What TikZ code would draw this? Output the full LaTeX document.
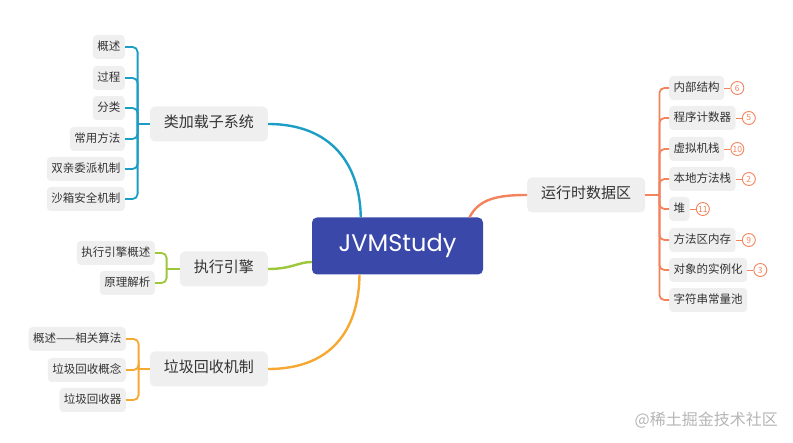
\documentclass[tikz,border=0pt]{standalone}
\usepackage{fontspec}
\setmainfont{Noto Sans CJK SC}
\newfontfamily\latinfont{Poppins}
\usetikzlibrary{calc}
\definecolor{centc}{HTML}{3A49A9}
\definecolor{tealc}{HTML}{1B9DC6}
\definecolor{greenc}{HTML}{9DC73B}
\definecolor{orangec}{HTML}{F7A833}
\definecolor{coralc}{HTML}{F2835C}
\definecolor{boxc}{HTML}{EFEFEF}
\definecolor{txtc}{HTML}{333333}
\definecolor{wmc}{HTML}{B5B5B5}
\begin{document}
\begin{tikzpicture}[x=1pt,y=-1pt,
  centre/.style={fill=centc, rounded corners=5pt, minimum width=171pt, minimum height=57pt, text=white, font=\latinfont\fontsize{24}{28}\selectfont},
  topic/.style={fill=boxc, rounded corners=5pt, minimum height=35pt, inner xsep=14pt, text=txtc, font=\fontsize{15}{18}\selectfont, text height=0.82em, text depth=0.18em},
  leaf/.style={fill=boxc, rounded corners=4pt, minimum height=24pt, inner xsep=4.5pt, text=txtc, font=\fontsize{11.5}{14}\selectfont, text height=0.82em, text depth=0.18em},
  badge/.style={circle, draw=coralc, line width=0.9pt, inner sep=0pt, minimum size=13pt, text=coralc, font=\fontsize{8.5}{9}\selectfont},
  branch/.style={line width=2.4pt},
  twig/.style={line width=1.8pt, rounded corners=5pt},
  ]
\useasboundingbox (0,0) rectangle (793,443);

% centre
\node[centre] (c) at (397.5,246) {JVMStudy};

% main topics
\node[topic, anchor=east] (lei) at (268,124) {类加载子系统};
\node[topic, anchor=east] (zx) at (268,269) {执行引擎};
\node[topic, anchor=east] (lj) at (268,369) {垃圾回收机制};
\node[topic, anchor=west] (yx) at (527,195) {运行时数据区};

% leaves of 类加载子系统
\node[leaf, anchor=east] (a1) at (125,47) {概述};
\node[leaf, anchor=east] (a2) at (125,78) {过程};
\node[leaf, anchor=east] (a3) at (125,108) {分类};
\node[leaf, anchor=east] (a4) at (125,139) {常用方法};
\node[leaf, anchor=east] (a5) at (125,169) {双亲委派机制};
\node[leaf, anchor=east] (a6) at (125,199) {沙箱安全机制};

% leaves of 执行引擎
\node[leaf, anchor=east] (b1) at (155,253) {执行引擎概述};
\node[leaf, anchor=east] (b2) at (155,283) {原理解析};

% leaves of 垃圾回收机制
\node[leaf, anchor=east] (d1) at (126,339) {概述——相关算法};
\node[leaf, anchor=east] (d2) at (126,370) {垃圾回收概念};
\node[leaf, anchor=east] (d3) at (126,400) {垃圾回收器};

% leaves of 运行时数据区
\node[leaf, anchor=west] (r1) at (669,88) {内部结构};
\node[leaf, anchor=west] (r2) at (669,118) {程序计数器};
\node[leaf, anchor=west] (r3) at (669,149) {虚拟机栈};
\node[leaf, anchor=west] (r4) at (669,179) {本地方法栈};
\node[leaf, anchor=west] (r5) at (669,209) {堆};
\node[leaf, anchor=west] (r6) at (669,240) {方法区内存};
\node[leaf, anchor=west] (r7) at (669,270) {对象的实例化};
\node[leaf, anchor=west] (r8) at (669,300) {字符串常量池};

% badges
\foreach \r/\n in {r1/6, r2/5, r3/10, r4/2, r5/11, r6/9, r7/3} {
  \node[badge, anchor=west] (\r b) at ($(\r.east)+(6,0)$) {\n};
  \draw[coralc, line width=0.9pt] (\r.east) -- (\r b.west);
}

% main branches
\draw[branch, tealc] (lei.east) .. controls (332,124) and (360,165) .. (c.142);
\draw[branch, greenc] (zx.east) .. controls (292,269) and (298,262) .. ($(c.west)+(0,16)$);
\draw[branch, orangec] (lj.east) .. controls (338,369) and (359,322) .. ($(c.south)+(-38,0)$);
\draw[branch, coralc] ($(c.north)+(72,0)$) .. controls (479,199) and (497,195) .. (yx.west);

% brackets
\coordinate (ja) at ($(lei.west)+(-12,0)$);
\draw[twig, tealc] (lei.west) -- (ja);
\foreach \k in {a1,a2,a3,a4,a5,a6} \draw[twig, tealc] (ja) |- (\k.east);

\coordinate (jb) at ($(zx.west)+(-13,0)$);
\draw[twig, greenc] (zx.west) -- (jb);
\foreach \k in {b1,b2} \draw[twig, greenc] (jb) |- (\k.east);

\coordinate (jd) at ($(lj.west)+(-11,0)$);
\draw[twig, orangec] (lj.west) -- (jd);
\foreach \k in {d1,d2,d3} \draw[twig, orangec] (jd) |- (\k.east);

\coordinate (jr) at ($(yx.east)+(14,0)$);
\draw[twig, coralc] (yx.east) -- (jr);
\foreach \k in {r1,r2,r3,r4,r5,r6,r7,r8} \draw[twig, coralc] (jr) |- (\k.west);

% watermark
\node[anchor=east, text=wmc, font=\fontsize{16}{18}\selectfont, inner sep=0pt] (wm) at (778,420) {@稀土掘金技术社区};
\end{tikzpicture}
\end{document}
